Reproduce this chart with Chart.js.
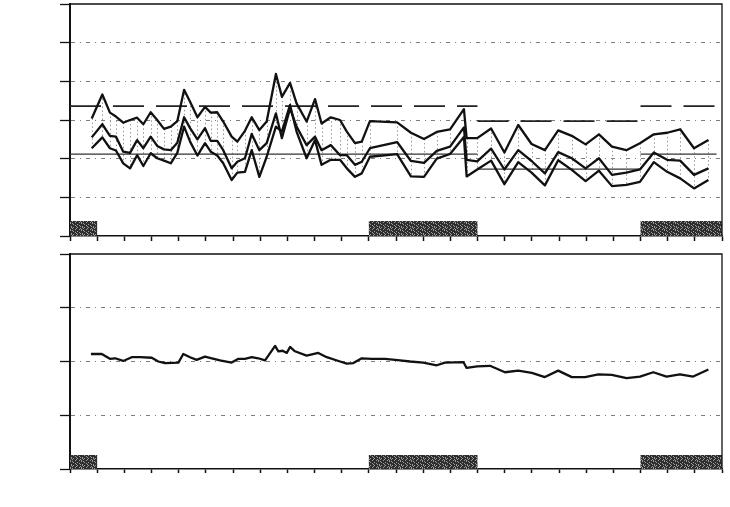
<!DOCTYPE html>
<html>
<head>
<meta charset="utf-8">
<script src="https://cdn.jsdelivr.net/npm/chart.js@4.4.1/dist/chart.umd.min.js"></script>
<style>
  html, body { margin: 0; padding: 0; background: #fff; }
  #wrap { position: relative; width: 730px; height: 507px; }
  canvas { position: absolute; left: 0; }
  #topChart { top: 0; }
  #bottomChart { top: 245px; }
</style>
</head>
<body>
<div id="wrap">
  <canvas id="topChart" width="730" height="245"></canvas>
  <canvas id="bottomChart" width="730" height="262"></canvas>
</div>
<script>
// x in tick intervals (0 - 24)
const topX = [0.80, 1.19, 1.47, 1.69, 1.96, 2.21, 2.47, 2.70, 2.97, 3.21, 3.46, 3.71, 3.95, 4.20, 4.42, 4.69,
  4.97, 5.18, 5.42, 5.64, 5.95, 6.16, 6.44, 6.69, 6.97, 7.24, 7.58, 7.80, 8.10, 8.34, 8.71, 9.02,
  9.26, 9.60, 9.94, 10.19, 10.49, 10.74, 11.04, 12.04, 12.55, 13.03, 13.50, 13.99, 14.50, 14.60, 14.99, 15.50,
  15.99, 16.50, 16.99, 17.48, 17.97, 18.47, 18.98, 19.47, 19.95, 20.48, 20.98, 21.49, 21.98, 22.46, 22.97, 23.50]

const upper = [3.04, 3.66, 3.19, 3.09, 2.93, 3.00, 3.06, 2.89, 3.20, 3.00, 2.77, 2.83, 2.97, 3.78, 3.47, 3.07,
  3.34, 3.19, 3.20, 2.96, 2.57, 2.44, 2.72, 3.07, 2.74, 2.96, 4.19, 3.60, 3.96, 3.43, 2.96, 3.54,
  2.91, 3.07, 3.00, 2.70, 2.40, 2.44, 2.97, 2.94, 2.67, 2.51, 2.69, 2.76, 3.28, 2.53, 2.53, 2.78,
  2.16, 2.87, 2.38, 2.22, 2.73, 2.59, 2.37, 2.63, 2.31, 2.22, 2.40, 2.63, 2.67, 2.76, 2.27, 2.48]

const middle = [2.55, 2.89, 2.59, 2.57, 2.18, 2.15, 2.48, 2.27, 2.57, 2.33, 2.24, 2.22, 2.41, 3.07, 2.79, 2.50,
  2.79, 2.46, 2.46, 2.22, 1.75, 1.92, 2.01, 2.64, 2.22, 2.40, 3.17, 2.53, 3.30, 2.83, 2.35, 2.57,
  2.22, 2.35, 2.09, 2.09, 1.84, 1.92, 2.27, 2.43, 1.94, 1.89, 2.20, 2.31, 2.81, 1.97, 1.93, 2.26,
  1.72, 2.22, 1.94, 1.62, 2.17, 2.01, 1.75, 2.01, 1.58, 1.64, 1.72, 2.16, 1.97, 1.95, 1.58, 1.75]

const lower = [2.27, 2.55, 2.27, 2.21, 1.88, 1.75, 2.09, 1.81, 2.14, 2.01, 1.95, 1.88, 2.15, 2.83, 2.44, 2.08,
  2.40, 2.18, 2.08, 1.88, 1.45, 1.64, 1.66, 2.22, 1.53, 2.05, 2.83, 2.70, 3.39, 2.70, 2.01, 2.48,
  1.84, 1.97, 1.97, 1.75, 1.53, 1.62, 2.05, 2.12, 1.54, 1.53, 2.00, 2.12, 2.56, 1.54, 1.72, 1.95,
  1.34, 1.91, 1.64, 1.31, 1.96, 1.71, 1.42, 1.69, 1.29, 1.32, 1.40, 1.91, 1.66, 1.49, 1.23, 1.45]

const bottomX = [0.77, 1.17, 1.47, 1.66, 1.96, 2.27, 2.58, 3.01, 3.25, 3.50, 3.99, 4.17, 4.42, 4.66, 4.97, 5.22,
  5.52, 5.95, 6.20, 6.44, 6.69, 6.93, 7.18, 7.55, 7.67, 7.83, 7.98, 8.10, 8.28, 8.71, 9.14, 9.45,
  9.94, 10.19, 10.43, 10.74, 11.11, 11.60, 12.15, 12.52, 13.00, 13.50, 13.80, 14.48, 14.60, 14.99, 15.46, 16.01,
  16.50, 17.00, 17.48, 17.97, 18.47, 18.96, 19.45, 19.94, 20.49, 20.98, 21.47, 21.96, 22.45, 22.94, 23.50]

const ratio = [2.14, 2.14, 2.05, 2.06, 2.01, 2.08, 2.08, 2.07, 2.00, 1.97, 1.98, 2.14, 2.08, 2.03, 2.09, 2.06,
  2.02, 1.98, 2.05, 2.05, 2.08, 2.06, 2.02, 2.29, 2.19, 2.20, 2.16, 2.27, 2.19, 2.11, 2.16, 2.08,
  2.00, 1.96, 1.97, 2.06, 2.05, 2.05, 2.02, 2.00, 1.98, 1.93, 1.98, 1.99, 1.88, 1.91, 1.92, 1.80,
  1.83, 1.79, 1.71, 1.83, 1.71, 1.71, 1.76, 1.75, 1.69, 1.72, 1.80, 1.72, 1.76, 1.72, 1.85]

// shaded periods
const recStart = [0, 11, 21]
const recEnd = [1, 15, 24]

// period averages (dashed = upper, solid = lower)
const periodBreaks = [0, 15, 21, 23.8]
const upperRef = [3.36, 2.97, 3.36]
const lowerRef = [2.12, 1.73, 2.12]

function speckle(ctx) {
  const c = document.createElement('canvas')
  c.width = 11
  c.height = 7
  const g = c.getContext('2d')
  g.fillStyle = '#2e2e2e'
  g.fillRect(0, 0, 11, 7)
  g.fillStyle = '#9c9c9c'
  for (let i = 0; i < 11; i++) {
    for (let j = 0; j < 7; j++) {
      if ((i * i * 3 + j * 5 + i * j * 2) % 7 < 2) g.fillRect(i, j, 1, 1)
    }
  }
  return ctx.createPattern(c, 'repeat')
}

const recessionBars = {
  id: 'recessionBars',
  beforeDatasetsDraw(chart, args, opts) {
    const { ctx, chartArea, scales } = chart
    ctx.save()
    ctx.fillStyle = speckle(ctx)
    recStart.forEach((s, i) => {
      const x1 = scales.x.getPixelForValue(s)
      const x2 = scales.x.getPixelForValue(recEnd[i])
      ctx.fillRect(x1, chartArea.bottom - opts.height, x2 - x1, opts.height)
    })
    ctx.restore()
  }
}

const hatch = {
  id: 'hatch',
  beforeDatasetsDraw(chart, args, opts) {
    if (!opts.on) return
    const ctx = chart.ctx
    const hi = chart.getDatasetMeta(0).data
    const lo = chart.getDatasetMeta(2).data
    ctx.save()
    ctx.setLineDash([1.5, 2.5])
    ctx.strokeStyle = '#999'
    ctx.lineWidth = 1
    ctx.beginPath()
    hi.forEach((p, i) => {
      ctx.moveTo(Math.round(p.x) + 0.5, p.y)
      ctx.lineTo(Math.round(p.x) + 0.5, lo[i].y)
    })
    ctx.stroke()
    ctx.restore()
  }
}

const frame = {
  id: 'frame',
  afterDatasetsDraw(chart) {
    const { ctx, chartArea } = chart
    ctx.save()
    ctx.strokeStyle = '#111'
    ctx.lineWidth = 1.3
    ctx.beginPath()
    ctx.moveTo(chartArea.left, chartArea.top)
    ctx.lineTo(chartArea.right, chartArea.top)
    ctx.lineTo(chartArea.right, chartArea.bottom)
    ctx.stroke()
    ctx.restore()
  }
}

function scalesFor(ymax, tickLen) {
  return {
    x: {
      type: 'linear', min: 0, max: 24,
      ticks: { stepSize: 1, display: false },
      grid: { drawOnChartArea: false, drawTicks: true, tickLength: tickLen, tickColor: '#111', tickWidth: 1.5 },
      border: { color: '#111', width: 1.5 }
    },
    y: {
      min: 0, max: ymax,
      ticks: { stepSize: 1, display: false },
      grid: {
        color: c => (c.tick.value === 0 || c.tick.value === ymax) ? 'rgba(0,0,0,0)' : '#7c7c7c',
        lineWidth: 1,
        tickLength: 10,
        tickColor: '#111',
        tickWidth: 1.3,
        tickBorderDash: []
      },
      border: { color: '#111', width: 2, dash: [4, 5, 1, 5] }
    }
  }
}

function pts(xs, ys) {
  return xs.map((x, i) => ({ x: x, y: ys[i] }))
}

function lineSet(data, width) {
  return { data: data, borderColor: '#111', borderWidth: width, pointRadius: 0, tension: 0, fill: false, borderJoinStyle: 'round' }
}

const topSets = [
  lineSet(pts(topX, upper), 2.3),
  lineSet(pts(topX, middle), 2.3),
  lineSet(pts(topX, lower), 2.3)
]
for (let k = 0; k < upperRef.length; k++) {
  const a = periodBreaks[k], b = periodBreaks[k + 1]
  topSets.push(Object.assign(lineSet([{ x: a, y: upperRef[k] }, { x: b, y: upperRef[k] }], 1.6), { borderDash: [31, 12], borderColor: '#222' }))
  topSets.push(Object.assign(lineSet([{ x: a, y: lowerRef[k] }, { x: b, y: lowerRef[k] }], 1.3), { borderColor: '#333' }))
}

new Chart(document.getElementById('topChart').getContext('2d'), {
  type: 'line',
  data: { datasets: topSets },
  options: {
    responsive: false,
    animation: false,
    layout: { padding: { left: 60, right: 8, top: 4, bottom: 4 } },
    scales: scalesFor(6, 5),
    plugins: {
      legend: { display: false },
      tooltip: { enabled: false },
      recessionBars: { height: 15 },
      hatch: { on: true }
    }
  },
  plugins: [recessionBars, hatch, frame]
})

new Chart(document.getElementById('bottomChart').getContext('2d'), {
  type: 'line',
  data: { datasets: [lineSet(pts(bottomX, ratio), 2.3)] },
  options: {
    responsive: false,
    animation: false,
    layout: { padding: { left: 60, right: 8, top: 9, bottom: 34 } },
    scales: scalesFor(4, 4),
    plugins: {
      legend: { display: false },
      tooltip: { enabled: false },
      recessionBars: { height: 14 },
      hatch: { on: false }
    }
  },
  plugins: [recessionBars, hatch, frame]
})
</script>
</body>
</html>
